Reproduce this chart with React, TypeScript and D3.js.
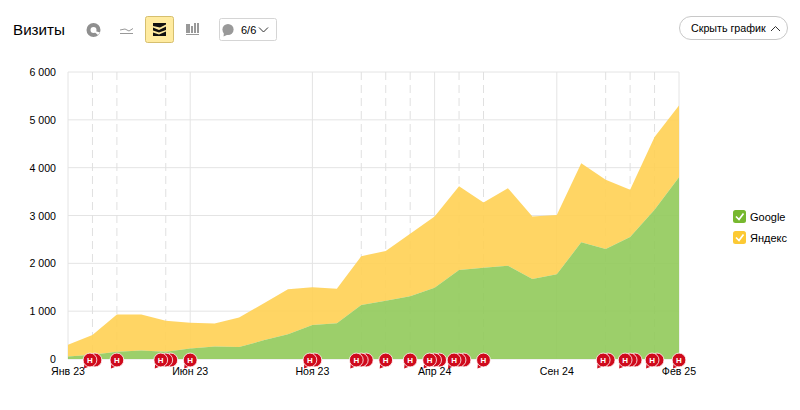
import React from "react";
import * as d3 from "d3";

const months = ["Янв 23","Фев 23","Мар 23","Апр 23","Май 23","Июн 23","Июл 23","Авг 23","Сен 23","Окт 23","Ноя 23","Дек 23","Янв 24","Фев 24","Мар 24","Апр 24","Май 24","Июн 24","Июл 24","Авг 24","Сен 24","Окт 24","Ноя 24","Дек 24","Янв 25","Фев 25"];
const google = [50,90,150,180,150,220,260,250,390,520,710,750,1130,1220,1310,1490,1860,1910,1950,1670,1770,2440,2300,2550,3120,3800];
const yandex = [250,410,780,750,650,540,480,620,770,940,790,720,1020,1040,1310,1490,1750,1360,1620,1310,1240,1650,1450,990,1520,1500];
const yTicks = [0,1000,2000,3000,4000,5000,6000];
const xLabelIdx = [0,5,10,15,20,25];
const noteIdx = [1,2,4,5,10,12,13,14,15,16,17,22,23,24,25];
const noteCount = [2,1,3,1,2,3,1,1,3,3,1,2,3,2,1];
const noteDashed = [1,2,4,12,13,14,16,17,22,23,24];
const legendNames = ["Google","Яндекс"];
const colGoogle = "#91ca5a";
const colYandex = "#ffd053";
const FONT = "'Liberation Sans', Arial, sans-serif";

const x = d3.scaleLinear().domain([0, months.length - 1]).range([68, 679]);
const y = d3.scaleLinear().domain([0, 6000]).range([359, 72]);
const fmt = (v: number) => (v === 0 ? "0" : d3.format(",")(v).replace(",", " "));

const stackTop = google.map((g, i) => g + yandex[i]);
const areaG = d3.area<number>().x((_, i) => x(i)).y0(y(0)).y1((d) => y(d))(google) as string;
const areaY = d3.area<number>().x((_, i) => x(i)).y0((_, i) => y(google[i])).y1((d) => y(d))(stackTop) as string;

function Bubble({ cx, front }: { cx: number; front: boolean }) {
  const cy = 360;
  return (
    <g>
      {front && <path d={`M${cx - 5.5} ${cy + 3} L${cx - 6} ${cy + 8.5} L${cx} ${cy + 6.2} Z`} fill="#cf0a1c" />}
      <circle cx={cx} cy={cy} r={6.9} fill="#cf0a1c" stroke="#fff" strokeWidth={0.8} />
      {front && (
        <text x={cx} y={cy + 2.8} textAnchor="middle" fontSize={8} fontWeight="bold" fontFamily={FONT} fill="#fff">Н</text>
      )}
    </g>
  );
}

function Notes() {
  return (
    <g>
      {noteIdx.map((idx, k) => {
        const n = noteCount[k];
        const left = x(idx) - (n - 1) * 2.5;
        const offs = d3.range(n).map((j) => left + j * 5).reverse();
        return (
          <g key={idx}>
            {offs.map((c, j) => (
              <Bubble key={j} cx={c} front={j === n - 1} />
            ))}
          </g>
        );
      })}
    </g>
  );
}

function Legend() {
  return (
    <g fontFamily={FONT} fontSize={11} fill="#000">
      {legendNames.map((name, i) => {
        const top = 210 + i * 21;
        return (
          <g key={name}>
            <rect x={733} y={top} width={13} height={13} rx={2.5} fill={i === 0 ? "#77b82f" : "#fcc934"} />
            <path d={`M736 ${top + 6.5} L739 ${top + 9.5} L743.5 ${top + 3.5}`} fill="none" stroke="#fff" strokeWidth={1.7} />
            <text x={750} y={top + 10.5}>{name}</text>
          </g>
        );
      })}
    </g>
  );
}

function Toolbar() {
  return (
    <g fontFamily={FONT}>
      <text x={13} y={34.5} fontSize={15.2} fill="#000">Визиты</text>
      {/* pie icon */}
      <circle cx={93.5} cy={30} r={5} fill="none" stroke="#8f8f8f" strokeWidth={4} />
      <path d="M92 30 L100 32.5 L98 35 Z" fill="#fff" />
      {/* line icon */}
      <path d="M120 30 L125 29 L129 31 L133 28.5" fill="none" stroke="#999" strokeWidth={1} />
      <path d="M120 33.5 H133" stroke="#999" strokeWidth={1} />
      {/* active stacked */}
      <rect x={145.5} y={16.5} width={28} height={26} rx={2} fill="#ffeba0" stroke="#d6bf6e" />
      <path d="M153 26 V23 H166 V24.5 L160 27.5 Z" fill="#111" />
      <path d="M153 27.5 L159 30 L166 26.5 V30 L159 32.5 L153 30.5 Z" fill="#111" />
      <path d="M153 32.5 L159 34.5 L166 31.5 V36 H153 Z" fill="#111" />
      {/* bar icon */}
      <path d="M186 24 h4 v9 h-4 Z M191 26 h2 v7 h-2 Z M194 23 h2 v10 h-2 Z M197 23 h2 v10 h-2 Z" fill="#999" />
      <path d="M186 34.5 H199" stroke="#999" strokeWidth={1} />
      {/* notes dropdown */}
      <rect x={219.5} y={18.5} width={57} height={22} rx={2} fill="#fff" stroke="#d5d5d5" />
      <circle cx={228} cy={29.5} r={5.6} fill="#999" />
      <path d="M224 32 L223.5 36.5 L228 34.5 Z" fill="#999" />
      <text x={241} y={33.5} fontSize={11} fill="#000">6/6</text>
      <path d="M259 27.5 L263.5 32 L268 27.5" fill="none" stroke="#333" strokeWidth={1} />
      {/* hide button */}
      <rect x={679.5} y={16.5} width={108} height={23} rx={11.5} fill="#fff" stroke="#c8c8c8" />
      <text x={691} y={32} fontSize={10.7} fill="#000">Скрыть график</text>
      <path d="M771 31 L775.5 26.5 L780 31" fill="none" stroke="#333" strokeWidth={1} />
    </g>
  );
}

export default function App() {
  return (
    <svg width={800} height={410} style={{ position: "absolute", left: 0, top: 0, background: "#fff" }}>
      <Toolbar />
      <g>
        {yTicks.map((t) => (
          <line key={t} x1={68} x2={679} y1={y(t)} y2={y(t)} stroke="#e4e4e4" />
        ))}
        {xLabelIdx.map((i) => (
          <line key={i} x1={x(i)} x2={x(i)} y1={72} y2={359} stroke="#e4e4e4" />
        ))}
        {noteDashed.map((i) => (
          <line key={i} x1={x(i)} x2={x(i)} y1={72} y2={359} stroke="#e0e0e0" strokeDasharray="8 5" />
        ))}
      </g>
      <path d={areaY} fill={colYandex} fillOpacity={0.9} />
      <path d={areaG} fill={colGoogle} fillOpacity={0.9} />
      <g fontFamily={FONT} fontSize={10.6} fill="#000">
        {yTicks.map((t) => (
          <text key={t} x={56} y={y(t) + 4} textAnchor="end">{fmt(t)}</text>
        ))}
        {xLabelIdx.map((i) => (
          <text key={i} x={x(i)} y={375} textAnchor="middle">{months[i]}</text>
        ))}
      </g>
      <Notes />
      <Legend />
    </svg>
  );
}
